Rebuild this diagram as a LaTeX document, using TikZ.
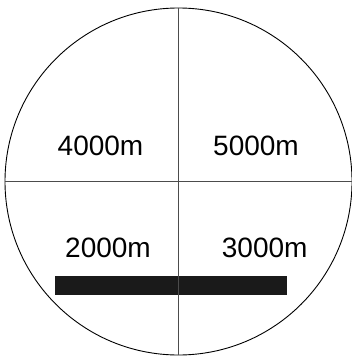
\documentclass[tikz,border=0pt]{standalone}
\usepackage{fontspec}
\setmainfont{Liberation Sans}
\definecolor{barcol}{HTML}{1A1A1A}
\begin{document}
\begin{tikzpicture}[x=1pt,y=-1pt,
  ring/.style={draw=black,line width=0.9pt,circle,minimum size=347pt,inner sep=0pt},
  axis/.style={draw=black!70,line width=0.9pt},
  lbl/.style={anchor=base,inner sep=0pt,font=\fontsize{28}{34}\selectfont},
  bar/.style={fill=barcol,draw=none,minimum width=232pt,minimum height=19pt,inner sep=0pt}]
\useasboundingbox (0,0) rectangle (351,358);
\node[bar] (r) at (171,285.8) {};
\node[ring] (c) at (178.5,181.5) {};
\draw[axis] (c.north) -- (c.south);
\draw[axis] (c.west) -- (c.east);
\node[lbl] (a) at (100.5,155) {4000m};
\node[lbl] (b) at (256,155) {5000m};
\node[lbl] (d) at (108,257.3) {2000m};
\node[lbl] (e) at (264.7,257.3) {3000m};
\end{tikzpicture}
\end{document}
